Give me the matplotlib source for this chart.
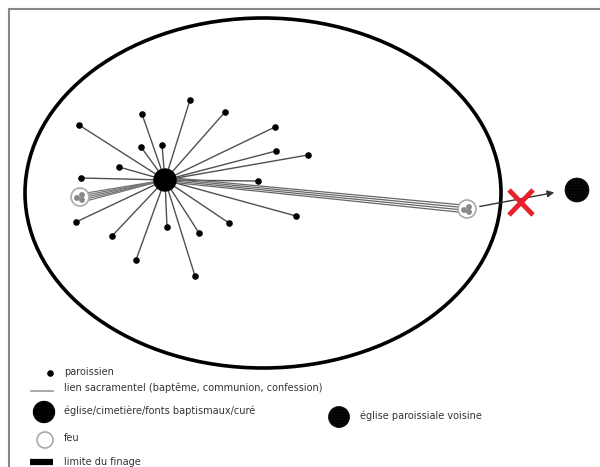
"""Schema: paroisse, finage et lien sacramentel."""

import matplotlib.pyplot as plt
import matplotlib.patches as patches
from matplotlib import font_manager

# parishioners (pixel coords in the 600x467 picture)
par_x = [190, 225, 142, 79, 275, 141, 162, 276, 308, 119,
         81, 258, 296, 76, 229, 167, 199, 112, 136, 195]
par_y = [100, 112, 114, 125, 127, 147, 145, 151, 155, 167,
         178, 181, 216, 222, 223, 227, 233, 236, 260, 276]

church = (165, 180)
feu_left = (80, 197)
feu_right = (467, 209)
neighbour = (577, 190)

finage_center = (263, 193)
finage_w, finage_h = 476, 350

legend_labels = [
    "paroissien",
    "lien sacramentel (baptême, communion, confession)",
    "église/cimetière/fonts baptismaux/curé",
    "feu",
    "limite du finage",
]
legend_y = [372, 388, 411, 438, 462]
neighbour_label = "église paroissiale voisine"

names = {f.name for f in font_manager.fontManager.ttflist}
fam = "Liberation Sans Narrow" if "Liberation Sans Narrow" in names else "DejaVu Sans"

fig = plt.figure(figsize=(6, 4.67), dpi=100)
ax = fig.add_axes([0, 0, 1, 1])
ax.set_xlim(0, 600)
ax.set_ylim(467, 0)
ax.axis("off")

# frame (top and left only)
ax.plot([8, 600], [8.5, 8.5], color="#888888", lw=1.5, solid_capstyle="butt")
ax.plot([8.5, 8.5], [8, 467], color="#888888", lw=1.5, solid_capstyle="butt")

# finage
ax.add_patch(patches.Ellipse(finage_center, finage_w, finage_h, fill=False,
                             edgecolor="black", lw=2.6, zorder=2))

# links church -> parishioners
for x, y in zip(par_x, par_y):
    ax.plot([church[0], x], [church[1], y], color="#505050", lw=1.0, zorder=3)
ax.scatter(par_x, par_y, s=14, color="black", zorder=5)

# links church -> left hearth (fan)
for dy in (-4, -2, 0, 2, 4):
    ax.plot([church[0], feu_left[0] + 6], [church[1], feu_left[1] + dy],
            color="#777777", lw=0.9, zorder=3)
# links church -> right hearth (band)
for dy in (-4, -1.5, 1, 3.5):
    ax.plot([church[0] + 5, feu_right[0] - 4], [church[1] + dy * 0.6, feu_right[1] + dy],
            color="#666666", lw=0.9, zorder=3)

for cx, cy in (feu_left, feu_right):
    ax.add_patch(patches.Circle((cx, cy), 9, facecolor="white", edgecolor="#aaaaaa",
                                lw=1.2, zorder=4))
    for ox, oy in ((-3, 1), (2, -2), (2, 3)):
        ax.add_patch(patches.Circle((cx + ox, cy + oy), 2.2, color="#888888", zorder=5))

ax.add_patch(patches.Circle(church, 11, color="black", zorder=6))

# blocked link to the neighbouring parish
ax.annotate("", xy=(557, 192), xytext=(477, 207),
            arrowprops=dict(arrowstyle="-|>", color="#333333", lw=1.0,
                            mutation_scale=10), zorder=4)
ax.plot([509, 533], [190, 215], color="#e8202a", lw=3.5, solid_capstyle="butt", zorder=7)
ax.plot([533, 509], [190, 215], color="#e8202a", lw=3.5, solid_capstyle="butt", zorder=7)

plt.rcParams["hatch.color"] = "#555555"
ax.add_patch(patches.Circle(neighbour, 12, facecolor="black", edgecolor="#111111",
                            hatch="......", lw=0.5, zorder=6))

# legend
ax.scatter([50], [legend_y[0] + 1], s=14, color="black")
ax.plot([31, 53], [legend_y[1] + 3, legend_y[1] + 3], color="#999999", lw=1.2)
ax.add_patch(patches.Circle((44, legend_y[2] + 1), 10.5, color="black"))
ax.add_patch(patches.Circle((45, legend_y[3] + 2), 8, facecolor="white",
                            edgecolor="#aaaaaa", lw=1.2))
ax.plot([30, 53], [legend_y[4], legend_y[4]], color="black", lw=4.5,
        solid_capstyle="butt")
for lbl, y in zip(legend_labels, legend_y):
    ax.text(64, y, lbl, fontsize=7, family=fam, color="#333333", va="center")

ax.add_patch(patches.Circle((339, 417), 10.5, facecolor="black", edgecolor="#111111",
                            hatch="......", lw=0.5))
ax.text(360, 416, neighbour_label, fontsize=7, family=fam, color="#333333", va="center")

fig.savefig("out.png", dpi=100, facecolor="white")
